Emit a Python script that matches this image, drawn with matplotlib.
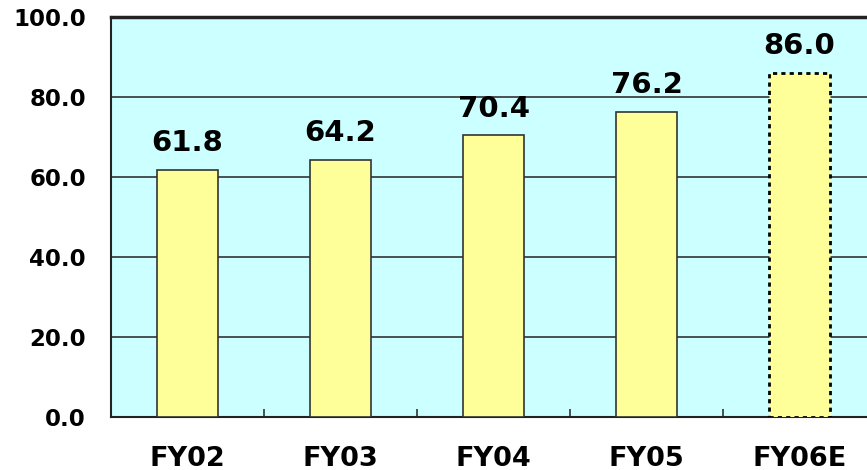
import matplotlib.pyplot as plt
import numpy as np

categories = ['FY02', 'FY03', 'FY04', 'FY05', 'FY06E']
values = [61.8, 64.2, 70.4, 76.2, 86.0]
yticks = [0, 20, 40, 60, 80, 100]

plt.rcParams['font.family'] = ['DejaVu Sans']
plt.rcParams['font.weight'] = 'bold'

fig = plt.figure(figsize=(8.67, 4.70), dpi=100)
# plot area runs off the right edge of the picture
ax = fig.add_axes([111/867, 53/470, 765/867, 400/470])
ax.set_facecolor('#ccffff')

x = np.arange(len(categories))
bars = ax.bar(x, values, width=0.4, color='#ffff99', edgecolor='#333333', linewidth=1.2, zorder=3)
# estimate bar has dotted outline
bars[-1].set_linestyle((0, (1.5, 1.5)))
bars[-1].set_edgecolor('black')
bars[-1].set_linewidth(2)

for xi, v in zip(x, values):
    ax.text(xi, v + 3.2, f'{v:.1f}', ha='center', va='bottom', fontsize=21, fontweight='bold', zorder=4)

ax.set_xlim(-0.5, len(categories) - 0.5)
ax.set_ylim(0, 100)
ax.set_yticks(yticks)
ax.set_yticklabels([f'{t:.1f}' for t in yticks], fontsize=16.5, fontweight='bold')
ax.yaxis.grid(True, color='#333333', linewidth=1.2, zorder=1)
ax.set_axisbelow(True)
ax.tick_params(axis='y', length=0, pad=18)

ax.set_xticks(x)
ax.set_xticklabels(categories, fontsize=19.5, fontweight='bold')
ax.tick_params(axis='x', length=0, pad=21)
# small separator ticks between categories
ax.set_xticks(np.arange(0.5, len(categories) - 0.5, 1), minor=True)
ax.tick_params(axis='x', which='minor', direction='in', length=6, width=1.2, color='#333333')

for s in ax.spines.values():
    s.set_color('#222222')
    s.set_linewidth(1.5)
ax.spines['top'].set_linewidth(2.5)

fig.savefig('out.png', dpi=100)
